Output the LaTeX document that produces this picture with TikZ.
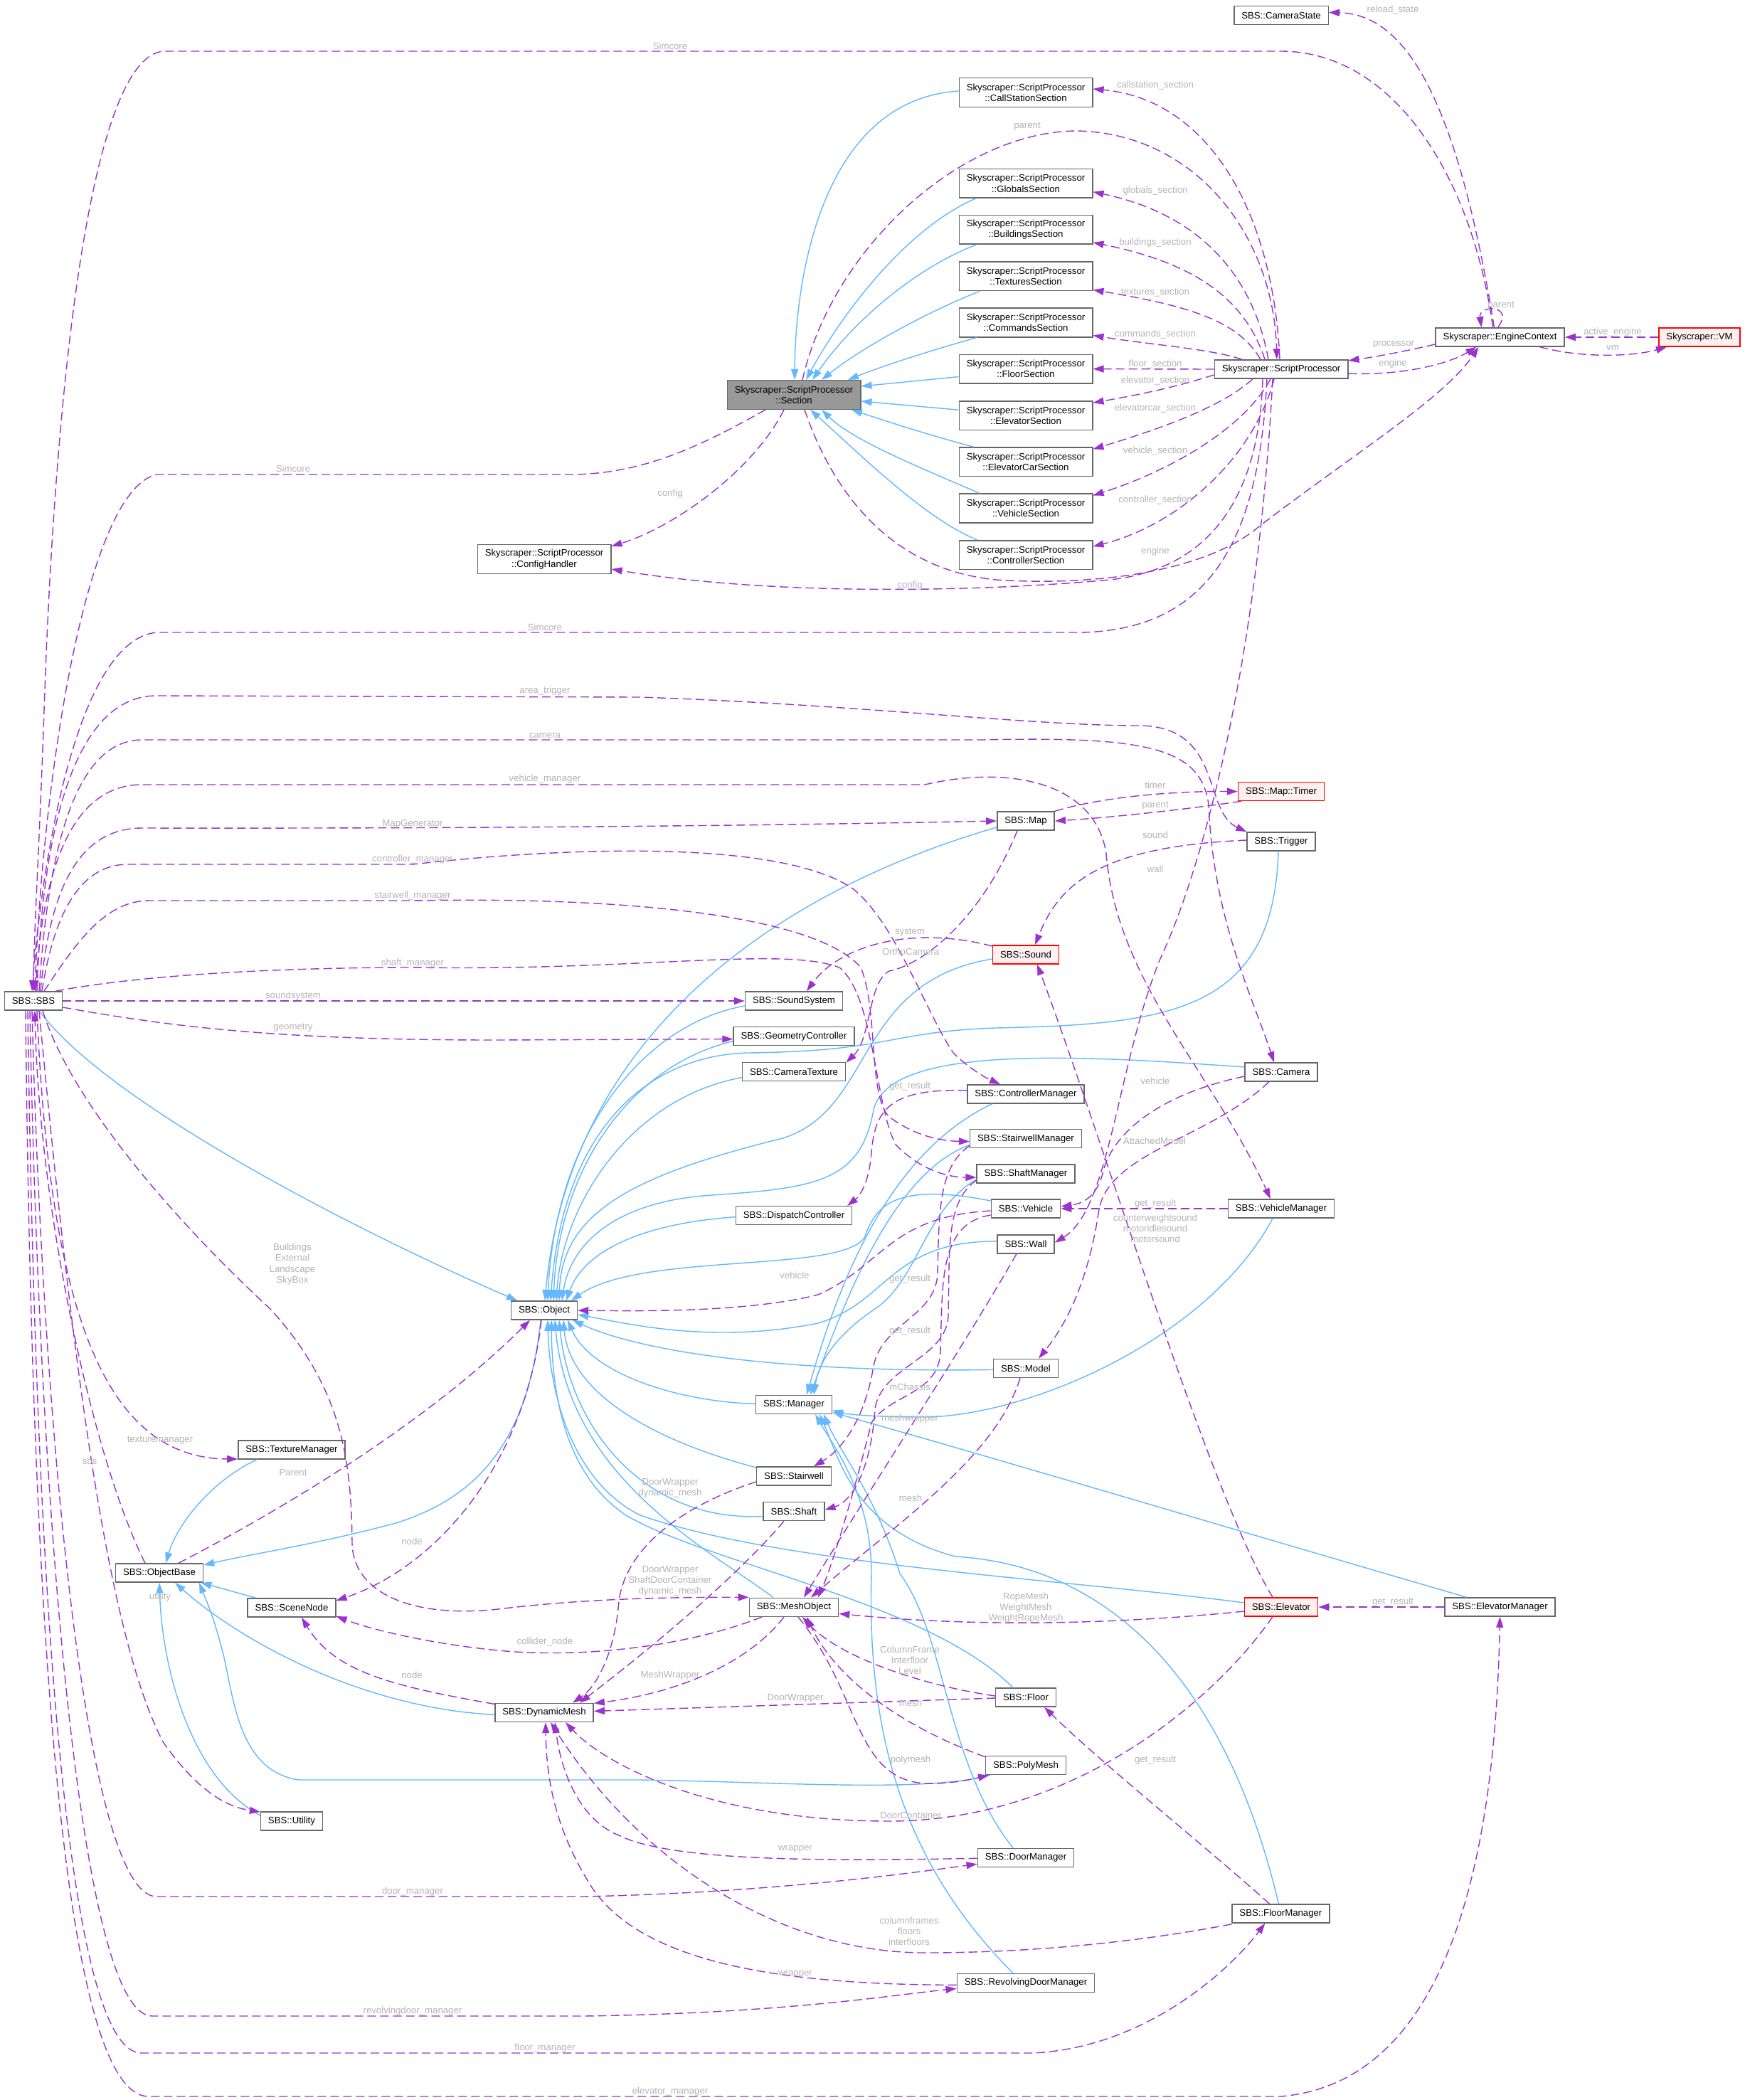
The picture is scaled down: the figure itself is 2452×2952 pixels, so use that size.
\documentclass[tikz,border=0pt]{standalone}
\usepackage{fontspec}
\setmainfont{Liberation Sans}
\usetikzlibrary{arrows.meta}
\definecolor{inhc}{HTML}{63B8FF}
\definecolor{usec}{HTML}{9A32CD}
\definecolor{lblc}{HTML}{B4B4B4}
\definecolor{brdc}{HTML}{666666}
\definecolor{redb}{HTML}{FF0000}
\definecolor{redf}{HTML}{FFF0F0}
\definecolor{rootf}{HTML}{999999}
\tikzset{
 cls/.style={draw=brdc, line width=1.5pt, fill=white, font=\fontsize{13.2}{15.2}\selectfont, inner xsep=10.5pt, inner ysep=0pt, minimum height=26pt, align=center},
 cls2/.style={cls, minimum height=40.6pt},
 redcls/.style={cls, draw=redb, fill=redf},
 root/.style={cls2, fill=rootf},
 inh/.style={draw=inhc, line width=1.4pt, -{Triangle[length=15pt,width=10pt]}},
 use/.style={draw=usec, line width=1.4pt, dash pattern=on 12pt off 6pt, -{Triangle[length=15pt,width=10pt]}},
 lbl/.style={text=lblc, font=\fontsize{13.2}{15.2}\selectfont, inner sep=0pt, align=center},
}
\begin{document}
\begin{tikzpicture}[x=1pt,y=-1pt]
\fill[white] (0,0) rectangle (2452,2952);
\useasboundingbox (0,0) rectangle (2452,2952);
% ---------- nodes
\node[cls] (sbs) at (47,1407) {SBS::SBS};
\node[cls2] (cfg) at (765,786) {Skyscraper::ScriptProcessor\\::ConfigHandler};
\node[root] (sec) at (1116,555) {Skyscraper::ScriptProcessor\\::Section};
\node[cls2] (cs) at (1442,130) {Skyscraper::ScriptProcessor\\::CallStationSection};
\node[cls2] (gs) at (1442,257.7) {Skyscraper::ScriptProcessor\\::GlobalsSection};
\node[cls2] (bs) at (1442,322.8) {Skyscraper::ScriptProcessor\\::BuildingsSection};
\node[cls2] (ts) at (1442,388.4) {Skyscraper::ScriptProcessor\\::TexturesSection};
\node[cls2] (cms) at (1442,453.5) {Skyscraper::ScriptProcessor\\::CommandsSection};
\node[cls2] (fs) at (1442,518.6) {Skyscraper::ScriptProcessor\\::FloorSection};
\node[cls2] (es) at (1442,584.2) {Skyscraper::ScriptProcessor\\::ElevatorSection};
\node[cls2] (ecs) at (1442,649.4) {Skyscraper::ScriptProcessor\\::ElevatorCarSection};
\node[cls2] (vs) at (1442,714.5) {Skyscraper::ScriptProcessor\\::VehicleSection};
\node[cls2] (ctls) at (1442,780.1) {Skyscraper::ScriptProcessor\\::ControllerSection};
\node[cls] (camst) at (1801,21.5) {SBS::CameraState};
\node[cls] (sp) at (1801,519) {Skyscraper::ScriptProcessor};
\node[cls] (ec) at (2108.5,474) {Skyscraper::EngineContext};
\node[redcls] (vm) at (2389,474) {Skyscraper::VM};
\node[cls] (map) at (1442,1154) {SBS::Map};
\node[redcls] (timer) at (1801,1112.6) {SBS::Map::Timer};
\node[cls] (trig) at (1801,1183) {SBS::Trigger};
\node[redcls] (sound) at (1442,1342) {SBS::Sound};
\node[cls] (sndsys) at (1116,1407) {SBS::SoundSystem};
\node[cls] (geo) at (1116,1456.6) {SBS::GeometryController};
\node[cls] (camtex) at (1116,1506.6) {SBS::CameraTexture};
\node[cls] (ctlm) at (1442,1537.8) {SBS::ControllerManager};
\node[cls] (stm) at (1442,1600.6) {SBS::StairwellManager};
\node[cls] (shm) at (1442,1650) {SBS::ShaftManager};
\node[cls] (veh) at (1442,1699) {SBS::Vehicle};
\node[cls] (disp) at (1116,1708.7) {SBS::DispatchController};
\node[cls] (wall) at (1442,1748.8) {SBS::Wall};
\node[cls] (cam) at (1801,1507) {SBS::Camera};
\node[cls] (vehm) at (1801,1699) {SBS::VehicleManager};
\node[cls] (model) at (1442,1923.4) {SBS::Model};
\node[cls] (obj) at (765,1842) {SBS::Object};
\node[cls] (mgr) at (1116,1974.4) {SBS::Manager};
\node[cls] (stw) at (1116,2074.9) {SBS::Stairwell};
\node[cls] (shaft) at (1116,2124.4) {SBS::Shaft};
\node[cls] (texm) at (410,2038) {SBS::TextureManager};
\node[cls] (objb) at (224,2211) {SBS::ObjectBase};
\node[cls] (scn) at (410,2260) {SBS::SceneNode};
\node[cls] (mesh) at (1116,2259.3) {SBS::MeshObject};
\node[redcls] (elev) at (1801,2259) {SBS::Elevator};
\node[cls] (elevm) at (2108.5,2259) {SBS::ElevatorManager};
\node[cls] (dyn) at (765,2407.4) {SBS::DynamicMesh};
\node[cls] (floor) at (1442,2386) {SBS::Floor};
\node[cls] (poly) at (1442,2481.7) {SBS::PolyMesh};
\node[cls] (util) at (410,2560) {SBS::Utility};
\node[cls] (doorm) at (1442,2611.3) {SBS::DoorManager};
\node[cls] (rdm) at (1442,2787.3) {SBS::RevolvingDoorManager};
\node[cls] (floorm) at (1800.4,2689.8) {SBS::FloorManager};
% ---------- inheritance into Section
\draw[inh] ([yshift=2pt]cs.west) .. controls (1160,140) and (1118,380) .. ([xshift=1pt]sec.north);
\draw[inh] ([xshift=-70pt]gs.south) .. controls (1280,318) and (1190,430) .. ([xshift=17pt]sec.north);
\draw[inh] ([xshift=-69pt]bs.south) .. controls (1290,375) and (1200,450) .. ([xshift=26pt]sec.north);
\draw[inh] ([xshift=-65pt]ts.south) .. controls (1300,440) and (1210,490) .. ([xshift=39pt]sec.north);
\draw[inh] ([xshift=-69pt]cms.south) .. controls (1300,495) and (1240,515) .. ([xshift=76pt]sec.north);
\draw[inh] ([yshift=-11pt]fs.west) -- ([yshift=12pt]sec.east);
\draw[inh] ([yshift=8pt]es.west) -- ([yshift=-9pt]sec.east);
\draw[inh] ([xshift=-73pt]ecs.north) .. controls (1300,610) and (1240,590) .. ([xshift=81pt]sec.south);
\draw[inh] ([xshift=-65pt]vs.north) .. controls (1300,660) and (1200,620) .. ([xshift=39pt]sec.south);
\draw[inh] ([xshift=-68pt]ctls.north) .. controls (1300,730) and (1200,630) .. ([xshift=23pt]sec.south);
% ---------- inheritance into Object
\draw[inh] ([xshift=8pt]sbs.south) .. controls (150,1550) and (500,1730) .. ([xshift=-38pt]obj.north);
\draw[inh] ([yshift=-9pt]map.west) .. controls (1100,1250) and (800,1450) .. ([xshift=1pt]obj.north);
\draw[inh] ([xshift=-4pt]trig.south) .. controls (1790,1420) and (1650,1440) .. (1400,1445) .. controls (1250,1450) and (1250,1478) .. (1050,1480) .. controls (900,1485) and (790,1600) .. ([xshift=9pt]obj.north);
\draw[inh] ([yshift=-6pt]sound.west) .. controls (1200,1380) and (1230,1560) .. (1100,1600) .. controls (900,1650) and (790,1700) .. ([xshift=21pt]obj.north);
\draw[inh] ([yshift=-7pt]sndsys.west) .. controls (900,1440) and (780,1600) .. ([xshift=5pt]obj.north);
\draw[inh] ([yshift=-7pt]geo.west) .. controls (880,1500) and (785,1650) .. ([xshift=13pt]obj.north);
\draw[inh] ([yshift=-8pt]camtex.west) .. controls (880,1545) and (790,1700) .. ([xshift=17pt]obj.north);
\draw[inh] ([yshift=7pt]cam.west) .. controls (1500,1482) and (1250,1470) .. (1228,1560) .. controls (1210,1660) and (1150,1670) .. (1000,1680) .. controls (850,1690) and (800,1760) .. ([xshift=25pt]obj.north);
\draw[inh] ([yshift=-2pt]disp.west) .. controls (900,1720) and (820,1760) .. ([xshift=31pt]obj.north);
\draw[inh] ([yshift=11pt]veh.west) .. controls (1250,1660) and (1230,1700) .. (1215,1740) .. controls (1180,1790) and (900,1760) .. ([xshift=38pt]obj.north);
\draw[inh] ([yshift=4pt]wall.west) .. controls (1250,1745) and (1250,1830) .. (1150,1860) .. controls (1000,1890) and (880,1860) .. ([yshift=-6pt]obj.east);
\draw[inh] ([yshift=-2pt]model.west) .. controls (1100,1930) and (900,1900) .. ([xshift=40pt]obj.south);
\draw[inh] ([yshift=1pt]mgr.west) .. controls (950,1970) and (830,1930) .. ([xshift=33pt]obj.south);
\draw[inh] ([yshift=12pt]stw.west) .. controls (900,2020) and (800,1950) .. ([xshift=27pt]obj.south);
\draw[inh] ([yshift=-7pt]shaft.west) .. controls (900,2140) and (800,2000) .. ([xshift=21pt]obj.south);
\draw[inh] ([xshift=-29pt]mesh.north) .. controls (1000,2180) and (800,2080) .. ([xshift=15pt]obj.south);
\draw[inh] ([xshift=-18pt]floor.north) .. controls (1300,2250) and (1000,2200) .. (880,2130) .. controls (790,2070) and (776,1950) .. ([xshift=10pt]obj.south);
\draw[inh] ([yshift=6pt]elev.west) .. controls (1500,2220) and (1100,2200) .. (900,2130) .. controls (800,2080) and (772,1950) .. ([xshift=5pt]obj.south);
% ---------- inheritance into Manager
\draw[inh] ([xshift=-47pt]ctlm.south) .. controls (1250,1620) and (1180,1800) .. ([xshift=18pt]mgr.north);
\draw[inh] ([yshift=-9pt]stm.west) .. controls (1250,1650) and (1180,1850) .. ([xshift=23pt]mgr.north);
\draw[inh] ([yshift=-8pt]shm.west) .. controls (1300,1700) and (1290,1800) .. (1230,1840) .. controls (1170,1880) and (1150,1920) .. ([xshift=28pt]mgr.north);
\draw[inh] ([xshift=-12pt]vehm.south) .. controls (1700,1880) and (1450,1990) .. (1300,1992) .. controls (1230,1992) and (1190,1988) .. ([yshift=-8pt]mgr.east);
\draw[inh] ([xshift=-47pt]elevm.north) .. controls (1700,2140) and (1400,2050) .. ([yshift=-11pt]mgr.east);
\draw[inh] ([xshift=-3pt]floorm.north) .. controls (1720,2350) and (1550,2200) .. (1343,2188) .. controls (1200,2150) and (1180,2050) .. ([xshift=36pt]mgr.south);
\draw[inh] ([xshift=-18pt]doorm.north) .. controls (1330,2480) and (1330,2300) .. (1265,2212) .. controls (1230,2100) and (1180,2040) .. ([xshift=42pt]mgr.south);
\draw[inh] ([xshift=-18pt]rdm.north) .. controls (1250,2600) and (1220,2400) .. (1225,2212) .. controls (1225,2100) and (1170,2030) .. ([xshift=30pt]mgr.south);
% ---------- inheritance into ObjectBase
\draw[inh] ([xshift=-5pt]obj.south) .. controls (740,2050) and (650,2110) .. (560,2140) .. controls (450,2170) and (350,2185) .. ([yshift=11pt]objb.east);
\draw[inh] ([xshift=-49pt]texm.south) .. controls (300,2080) and (250,2140) .. ([xshift=9pt]objb.north);
\draw[inh] ([xshift=-50pt]scn.north) -- ([xshift=-4pt]objb.south east);
\draw[inh] ([yshift=-3pt]dyn.west) .. controls (500,2400) and (330,2300) .. ([xshift=22pt]objb.south);
\draw[inh] ([xshift=-50pt]poly.south) .. controls (1300,2520) and (1100,2505) .. (900,2502) -- (420,2502) .. controls (340,2490) and (330,2400) .. (315,2330) .. controls (300,2270) and (290,2250) .. ([xshift=56pt]objb.south);
\draw[inh] ([yshift=8pt]util.west) .. controls (270,2500) and (228,2350) .. (objb.south);
% ---------- usage edges
\draw[use] ([xshift=-10pt]ec.north) .. controls (2070,250) and (1960,72) .. (1800,72) -- (230,72) .. controls (120,80) and (75,600) .. (62,1000) .. controls (55,1200) and (48,1300) .. (sbs.north);
\draw[use] ([xshift=-40pt]sec.south) .. controls (980,630) and (900,667) .. (800,667) -- (220,667) .. controls (120,690) and (60,1100) .. ([xshift=2pt]sbs.north);
\draw[use] ([xshift=-14pt]sec.south) .. controls (1060,660) and (950,740) .. ([yshift=-3pt]cfg.north east);
\draw[use] ([xshift=-26pt]sp.south) .. controls (1770,700) and (1700,800) .. (1560,815) .. controls (1400,830) and (1100,840) .. ([yshift=-14pt]cfg.east);
\draw[use] ([xshift=-20pt]sp.south) .. controls (1770,760) and (1700,885) .. (1520,889) -- (220,889) .. controls (110,900) and (60,1200) .. ([xshift=-2pt]sbs.north);
\draw[use] ([xshift=15pt]sec.south) .. controls (1170,690) and (1250,800) .. (1400,815) .. controls (1550,825) and (1700,800) .. (1770,740) .. controls (1900,640) and (2030,560) .. ([xshift=-30pt]ec.south);
\draw[use] ([xshift=12pt]sec.north) .. controls (1170,350) and (1350,184) .. (1515,184) .. controls (1680,188) and (1790,330) .. ([xshift=-6pt]sp.north);
\draw[use] ([xshift=-2pt]sp.north) .. controls (1790,300) and (1700,140) .. ([yshift=5pt]cs.east);
\draw[use] ([xshift=-18pt]sp.north) .. controls (1760,380) and (1680,300) .. ([yshift=-12pt]gs.east);
\draw[use] ([xshift=-23pt]sp.north) .. controls (1750,420) and (1680,370) .. ([yshift=-18pt]bs.east);
\draw[use] ([xshift=-29pt]sp.north) .. controls (1740,450) and (1670,430) .. ([yshift=-19pt]ts.east);
\draw[use] ([xshift=-55pt]sp.north) .. controls (1700,490) and (1620,485) .. ([yshift=-18pt]cms.east);
\draw[use] (sp.west) -- (fs.east);
\draw[use] ([yshift=-8pt]sp.west) .. controls (1650,545) and (1600,555) .. ([yshift=18pt]es.east);
\draw[use] ([xshift=-40pt]sp.south) .. controls (1720,570) and (1640,600) .. ([yshift=18pt]ecs.east);
\draw[use] ([xshift=-15pt]sp.south) .. controls (1750,600) and (1650,660) .. ([yshift=18pt]vs.east);
\draw[use] ([xshift=-10pt]sp.south) .. controls (1760,650) and (1650,740) .. ([yshift=12pt]ctls.east);
\draw[use] ([yshift=-10pt]ec.west) .. controls (1970,495) and (1930,502) .. ([yshift=12pt]sp.east);
\draw[use] ([yshift=-6pt]sp.east) .. controls (1960,528) and (2030,515) .. ([xshift=-33pt]ec.south);
\draw[use] ([xshift=-3pt]ec.north) .. controls (2130,428) and (2078,428) .. ([xshift=-26pt]ec.north);
\draw[use] (vm.west) -- (ec.east);
\draw[use] ([xshift=56pt]ec.south) .. controls (2230,505) and (2300,500) .. ([xshift=-46pt]vm.south);
\draw[use] ([xshift=-8pt]ec.north) .. controls (2050,150) and (1980,20) .. ([yshift=4pt]camst.east);
% SBS members
\draw[use] ([xshift=5pt]sbs.north) .. controls (60,1150) and (110,978) .. (220,978) -- (900,980) .. controls (1200,990) and (1450,1020) .. (1600,1020) .. controls (1720,1020) and (1690,1140) .. (trig.north west);
\draw[use] ([xshift=8pt]sbs.north) .. controls (70,1150) and (120,1040) .. (200,1040) -- (1380,1040) .. controls (1620,1035) and (1700,1050) .. (1700,1150) .. controls (1710,1300) and (1760,1400) .. ([xshift=-10pt]cam.north);
\draw[use] ([xshift=3pt]sbs.north) .. controls (60,1200) and (110,1103) .. (200,1103) -- (1300,1103) .. controls (1420,1075) and (1540,1100) .. (1555,1200) .. controls (1570,1380) and (1700,1500) .. ([xshift=-15pt]vehm.north);
\draw[use] ([xshift=10pt]sbs.north) .. controls (70,1250) and (110,1164) .. (200,1164) .. controls (800,1165) and (1200,1158) .. (map.west);
\draw[use] ([xshift=12pt]sbs.north) .. controls (75,1290) and (110,1215) .. (180,1215) -- (580,1215) .. controls (800,1190) and (1100,1180) .. (1200,1250) .. controls (1260,1300) and (1300,1420) .. (1340,1480) .. controls (1360,1500) and (1385,1515) .. ([xshift=-36pt]ctlm.north);
\draw[use] ([xshift=15pt]sbs.north) .. controls (110,1320) and (150,1266) .. (210,1266) -- (580,1266) .. controls (900,1260) and (1150,1290) .. (1210,1360) .. controls (1235,1420) and (1220,1540) .. (1250,1570) .. controls (1290,1600) and (1330,1604) .. ([yshift=-4pt]stm.west);
\draw[use] ([xshift=-10pt]sbs.north east) .. controls (200,1370) and (400,1360) .. (580,1360) .. controls (900,1365) and (1100,1330) .. (1180,1360) .. controls (1230,1400) and (1230,1560) .. (1260,1610) .. controls (1300,1650) and (1340,1655) .. ([yshift=-5pt]shm.west);
\draw[use] (sbs.east) -- (sndsys.west);
\draw[use] ([yshift=-9pt]sbs.east) .. controls (250,1445) and (400,1462) .. (700,1462) -- ([yshift=-4pt]geo.west);
\draw[use] ([xshift=13pt]sbs.south) .. controls (100,1550) and (250,1720) .. (380,1840) .. controls (480,1950) and (494,2050) .. (495,2170) .. controls (497,2240) and (580,2275) .. (700,2262) .. controls (800,2250) and (900,2245) .. ([yshift=14pt]mesh.west);
\draw[use] ([xshift=5pt]sbs.south) .. controls (70,1850) and (150,2050) .. ([yshift=-13pt]texm.west);
\draw[use] ([xshift=8pt]sbs.south) .. controls (100,1900) and (150,2300) .. (230,2450) .. controls (280,2520) and (320,2540) .. ([yshift=13pt]util.west);
\draw[use] ([xshift=-2pt]sbs.south) .. controls (60,2000) and (120,2666) .. (220,2666) -- (820,2666) .. controls (1100,2660) and (1300,2630) .. ([yshift=-9pt]doorm.west);
\draw[use] ([xshift=-5pt]sbs.south) .. controls (55,2100) and (110,2834) .. (214,2834) -- (820,2834) .. controls (1100,2830) and (1250,2805) .. ([yshift=-8pt]rdm.west);
\draw[use] ([xshift=-8pt]sbs.south) .. controls (50,2200) and (90,2886) .. (199,2886) -- (1450,2886) .. controls (1600,2880) and (1720,2780) .. ([xshift=-22pt]floorm.south);
\draw[use] ([xshift=-11pt]sbs.south) .. controls (45,2300) and (90,2947) .. (209,2947) -- (1800,2947) .. controls (2000,2930) and (2100,2700) .. (elevm.south);
\draw[use] ([xshift=-20pt]objb.north) .. controls (130,2050) and (55,1700) .. ([xshift=2pt]sbs.south);
\draw[use] ([xshift=27pt]objb.north) .. controls (400,2120) and (600,2000) .. ([xshift=-20pt]obj.south);
\draw[use] ([xshift=-4pt]obj.south) .. controls (740,2050) and (620,2200) .. ([yshift=10pt]scn.east);
\draw[use] ([yshift=12pt]dyn.west) .. controls (550,2370) and (470,2350) .. ([xshift=14pt]scn.south);
\draw[use] ([xshift=-45pt]mesh.south) .. controls (950,2320) and (800,2330) .. (700,2320) .. controls (600,2310) and (520,2290) .. ([yshift=-12pt]scn.east);
\draw[use] ([xshift=-14pt]mesh.south) .. controls (1050,2340) and (950,2380) .. ([yshift=13pt]dyn.east);
\draw[use] ([yshift=-1pt]floor.west) -- ([yshift=2pt]dyn.east);
\draw[use] ([yshift=2pt]floor.west) .. controls (1300,2370) and (1180,2330) .. ([xshift=12pt]mesh.south);
\draw[use] ([yshift=12pt]poly.west) .. controls (1250,2420) and (1170,2350) .. ([xshift=18pt]mesh.south);
\draw[use] ([xshift=6pt]mesh.south) .. controls (1210,2380) and (1200,2500) .. (1300,2507) .. controls (1340,2508) and (1370,2500) .. ([xshift=-52pt]poly.south);
\draw[use] ([xshift=-12pt]elev.south) .. controls (1700,2400) and (1500,2560) .. (1250,2560) .. controls (1000,2560) and (850,2480) .. ([xshift=30pt]dyn.south);
\draw[use] ([yshift=-6pt]elev.west) .. controls (1600,2280) and (1400,2290) .. ([yshift=-9pt]mesh.east);
\draw[use] ([xshift=-12pt]elev.north) .. controls (1700,2100) and (1550,1600) .. ([xshift=16pt]sound.south);
\draw[use] (elevm.west) -- (elev.east);
\draw[use] ([xshift=-16pt]floorm.north) .. controls (1700,2600) and (1550,2480) .. ([xshift=26pt]floor.south);
\draw[use] ([yshift=-15pt]floorm.west) .. controls (1600,2730) and (1450,2745) .. (1300,2745) .. controls (1100,2745) and (900,2620) .. ([xshift=9pt]dyn.south);
\draw[use] ([yshift=-1pt]doorm.west) .. controls (1200,2615) and (950,2620) .. (870,2580) .. controls (820,2560) and (790,2500) .. ([xshift=15pt]dyn.south);
\draw[use] ([yshift=-3pt]rdm.west) .. controls (1100,2790) and (900,2760) .. (830,2650) .. controls (780,2570) and (768,2500) .. ([xshift=2pt]dyn.south);
\draw[use] ([yshift=-8pt]stw.west) .. controls (950,2120) and (880,2180) .. (870,2250) .. controls (865,2320) and (840,2370) .. ([xshift=40pt]dyn.north);
\draw[use] ([xshift=-14pt]shaft.south) .. controls (1050,2200) and (950,2290) .. ([xshift=50pt]dyn.north);
\draw[use] ([yshift=-3pt]veh.west) .. controls (1250,1710) and (1240,1780) .. (1150,1820) .. controls (1050,1845) and (900,1843) .. (obj.east);
\draw[use] ([yshift=-9pt]veh.west) .. controls (1320,1720) and (1325,1800) .. (1322,1900) .. controls (1320,1960) and (1250,1960) .. (1225,2000) .. controls (1200,2100) and (1170,2200) .. ([xshift=34pt]mesh.north);
\draw[use] ([xshift=-8pt]model.south) .. controls (1400,2050) and (1250,2150) .. ([xshift=24pt]mesh.north);
\draw[use] ([xshift=-13pt]wall.south) .. controls (1350,1900) and (1250,2050) .. ([xshift=14pt]mesh.north);
\draw[use] ([yshift=5pt]ctlm.west) .. controls (1250,1530) and (1230,1560) .. (1225,1620) .. controls (1222,1660) and (1210,1680) .. ([xshift=75pt]disp.north);
\draw[use] ([yshift=-10pt]stm.west) .. controls (1320,1640) and (1320,1700) .. (1318,1790) .. controls (1316,1850) and (1240,1860) .. (1228,1920) .. controls (1215,2000) and (1180,2040) .. ([xshift=28pt]stw.north);
\draw[use] ([yshift=-9pt]shm.west) .. controls (1330,1690) and (1335,1750) .. (1333,1850) .. controls (1330,1910) and (1240,1920) .. (1230,1980) .. controls (1225,2060) and (1200,2110) .. ([yshift=2pt]shaft.east);
\draw[use] (vehm.west) -- (veh.east);
\draw[use] ([yshift=-6pt]cam.west) .. controls (1620,1540) and (1560,1600) .. (1550,1650) .. controls (1540,1685) and (1520,1692) .. ([yshift=3pt]veh.east);
\draw[use] ([xshift=-17pt]cam.south) .. controls (1700,1600) and (1560,1620) .. (1545,1700) .. controls (1530,1800) and (1500,1860) .. ([xshift=18pt]model.north);
\draw[use] ([xshift=-12pt]sp.south) .. controls (1770,900) and (1700,1200) .. (1630,1350) .. controls (1570,1500) and (1560,1700) .. ([yshift=2pt]wall.east);
\draw[use] (map.north east) .. controls (1550,1120) and (1650,1112) .. (timer.west);
\draw[use] ([xshift=-56pt]timer.south) .. controls (1650,1140) and (1550,1150) .. (map.east);
\draw[use] ([yshift=2pt]trig.west) .. controls (1550,1190) and (1490,1240) .. ([xshift=13pt]sound.north);
\draw[use] ([yshift=12pt]sound.west) .. controls (1280,1300) and (1180,1330) .. ([xshift=18pt]sndsys.north);
\draw[use] ([xshift=-12pt]map.south) .. controls (1380,1290) and (1300,1355) .. (1250,1365) .. controls (1220,1380) and (1225,1460) .. ([yshift=13pt]camtex.east);
% ---------- labels
\node[lbl] (l1) at (942,65) {Simcore};
\node[lbl] (l2) at (412,659) {Simcore};
\node[lbl] (l3) at (766,882) {Simcore};
\node[lbl] (l4) at (942,694) {config};
\node[lbl] (l5) at (1279,823) {config};
\node[lbl] (l6) at (1444,178) {parent};
\node[lbl] (l7) at (1624,120) {callstation\_section};
\node[lbl] (l8) at (1624,268) {globals\_section};
\node[lbl] (l9) at (1624,341) {buildings\_section};
\node[lbl] (l10) at (1624,411) {textures\_section};
\node[lbl] (l11) at (1624,470) {commands\_section};
\node[lbl] (l12) at (1624,512) {floor\_section};
\node[lbl] (l13) at (1624,535) {elevator\_section};
\node[lbl] (l14) at (1624,574) {elevatorcar\_section};
\node[lbl] (l15) at (1624,634) {vehicle\_section};
\node[lbl] (l16) at (1624,703) {controller\_section};
\node[lbl] (l17) at (1624,775) {engine};
\node[lbl] (l18) at (1958,14) {reload\_state};
\node[lbl] (l19) at (1959,484) {processor};
\node[lbl] (l20) at (1958,511) {engine};
\node[lbl] (l21) at (2110,430) {parent};
\node[lbl] (l22) at (2267,467) {active\_engine};
\node[lbl] (l23) at (2267,489) {vm};
\node[lbl] (l24) at (766,971) {area\_trigger};
\node[lbl] (l25) at (766,1034) {camera};
\node[lbl] (l26) at (766,1095) {vehicle\_manager};
\node[lbl] (l27) at (580,1158) {MapGenerator};
\node[lbl] (l28) at (580,1208) {controller\_manager};
\node[lbl] (l29) at (580,1259) {stairwell\_manager};
\node[lbl] (l30) at (580,1354) {shaft\_manager};
\node[lbl] (l31) at (412,1400) {soundsystem};
\node[lbl] (l32) at (412,1445) {geometry};
\node[lbl] (l33) at (1624,1104) {timer};
\node[lbl] (l34) at (1624,1133) {parent};
\node[lbl] (l35) at (1624,1174) {sound};
\node[lbl] (l36) at (1624,1222) {wall};
\node[lbl] (l37) at (1279,1311) {system};
\node[lbl] (l38) at (1280,1338) {OrthoCamera};
\node[lbl] (l39) at (1279,1527) {get\_result};
\node[lbl] (l40) at (1624,1520) {vehicle};
\node[lbl] (l41) at (1623,1604) {AttachedModel};
\node[lbl] (l42) at (1624,1692) {get\_result};
\node[lbl] (l43) at (1624,1727) {counterweightsound\\motoridlesound\\motorsound};
\node[lbl] (l44) at (1117,1793) {vehicle};
\node[lbl] (l45) at (1279,1798) {get\_result};
\node[lbl] (l46) at (1279,1871) {get\_result};
\node[lbl] (l47) at (1279,1950) {mChassis};
\node[lbl] (l48) at (1279,1994) {meshwrapper};
\node[lbl] (l49) at (1280,2106) {mesh};
\node[lbl] (l50) at (411,1777) {Buildings\\External\\Landscape\\SkyBox};
\node[lbl] (l51) at (225,2025) {texturemanager};
\node[lbl] (l52) at (126,2054) {sbs};
\node[lbl] (l53) at (412,2070) {Parent};
\node[lbl] (l54) at (579,2167) {node};
\node[lbl] (l55) at (942,2092) {DoorWrapper\\dynamic\_mesh};
\node[lbl] (l56) at (942,2222) {DoorWrapper\\ShaftDoorContainer\\dynamic\_mesh};
\node[lbl] (l57) at (225,2245) {utility};
\node[lbl] (l58) at (766,2308) {collider\_node};
\node[lbl] (l59) at (579,2355) {node};
\node[lbl] (l60) at (942,2355) {MeshWrapper};
\node[lbl] (l61) at (1442,2260) {RopeMesh\\WeightMesh\\WeightRopeMesh};
\node[lbl] (l62) at (1958,2252) {get\_result};
\node[lbl] (l63) at (1279,2334) {ColumnFrame\\Interfloor\\Level};
\node[lbl] (l64) at (1118,2387) {DoorWrapper};
\node[lbl] (l65) at (1280,2394) {mesh};
\node[lbl] (l66) at (1280,2474) {polymesh};
\node[lbl] (l67) at (1624,2474) {get\_result};
\node[lbl] (l68) at (1280,2552) {DoorContainer};
\node[lbl] (l69) at (1118,2599) {wrapper};
\node[lbl] (l70) at (1278,2715) {columnframes\\floors\\interfloors};
\node[lbl] (l71) at (1118,2775) {wrapper};
\node[lbl] (l72) at (580,2659) {door\_manager};
\node[lbl] (l73) at (580,2827) {revolvingdoor\_manager};
\node[lbl] (l74) at (766,2879) {floor\_manager};
\node[lbl] (l75) at (942,2940) {elevator\_manager};
\end{tikzpicture}
\end{document}
